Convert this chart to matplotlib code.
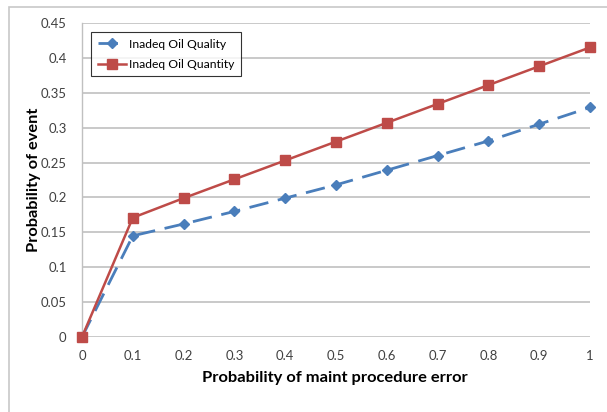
import matplotlib
matplotlib.use("Agg")
import matplotlib.pyplot as plt
from matplotlib.patches import Rectangle

x_vals = [0, 0.1, 0.2, 0.3, 0.4, 0.5, 0.6, 0.7, 0.8, 0.9, 1.0]
quality = [0, 0.145, 0.162, 0.180, 0.199, 0.218, 0.239, 0.260, 0.281, 0.305, 0.329]
quantity = [0, 0.171, 0.199, 0.226, 0.253, 0.280, 0.307, 0.334, 0.361, 0.388, 0.415]
x_ticks = [0, 0.1, 0.2, 0.3, 0.4, 0.5, 0.6, 0.7, 0.8, 0.9, 1.0]
x_tick_labels = ["0", "0.1", "0.2", "0.3", "0.4", "0.5", "0.6", "0.7", "0.8", "0.9", "1"]
y_ticks = [0, 0.05, 0.1, 0.15, 0.2, 0.25, 0.3, 0.35, 0.4, 0.45]
y_tick_labels = ["0", "0.05", "0.1", "0.15", "0.2", "0.25", "0.3", "0.35", "0.4", "0.45"]

plt.rcParams['font.family'] = ['Lato', 'DejaVu Sans']

W, H = 607, 412
fig = plt.figure(figsize=(W / 100, H / 100), dpi=100)
fig.patch.set_facecolor("white")
renderer = fig.canvas.get_renderer()


def fit_size(text, target_px, weight="normal", base=10.0):
    t = fig.text(0, 0, text, fontsize=base, fontweight=weight)
    w = t.get_window_extent(renderer=renderer).width
    t.remove()
    return base * target_px / w


fig.patches.append(Rectangle((9 / W, -0.1), 1.2, 1.1 - 7 / H,
                             transform=fig.transFigure, fill=False,
                             edgecolor="#c8c8c8", linewidth=1.2))

ax = fig.add_axes([82 / W, 1 - 337 / H, (590 - 82) / W, (337 - 23) / H])
ax.set_xlim(0, 1)
ax.set_ylim(0, 0.45)

ax.plot(x_vals, quality, color="#4A7EBB", linestyle=(0, (7, 3.5)), linewidth=2,
        marker="D", markersize=5.5, markerfacecolor="#4A7EBB",
        markeredgecolor="#4A7EBB", label="Inadeq Oil Quality", zorder=3, clip_on=False)
ax.plot(x_vals, quantity, color="#BE4B48", linestyle="-", linewidth=1.8,
        marker="s", markersize=7.5, markerfacecolor="#BE4B48",
        markeredgecolor="#BE4B48", label="Inadeq Oil Quantity", zorder=4, clip_on=False)

tick_fs = fit_size("0.35", 26)
ax.set_xticks(x_ticks)
ax.set_xticklabels(x_tick_labels)
ax.set_yticks(y_ticks)
ax.set_yticklabels(y_tick_labels)
ax.tick_params(axis="both", length=0, labelsize=tick_fs, colors="#404040")
ax.tick_params(axis="x", pad=9)
ax.tick_params(axis="y", pad=11)

ax.grid(axis="y", color="#c0c0c0", linewidth=1.2)
ax.set_axisbelow(True)
for s in ["top", "right", "bottom"]:
    ax.spines[s].set_visible(False)
ax.spines["left"].set_color("#c0c0c0")
ax.spines["left"].set_linewidth(1.0)

xl_fs = fit_size("Probability of maint procedure error", 266, weight="bold")
yl_fs = fit_size("Probability of event", 145, weight="bold")
fig.text((202 + 468) / 2 / W, 1 - 378 / H, "Probability of maint procedure error",
         fontsize=xl_fs, fontweight="bold", ha="center", va="center", color="black")
fig.text(34 / W, 1 - 180 / H, "Probability of event", rotation=90,
         fontsize=yl_fs, fontweight="bold", ha="center", va="center", color="black")

leg_fs = fit_size("Inadeq Oil Quantity", 105)
leg = ax.legend(loc="upper left", bbox_to_anchor=(9 / 508, 1 - 9 / 314),
                fontsize=leg_fs, frameon=True, fancybox=False, borderpad=0.55,
                handlelength=2.3, handletextpad=0.25, labelspacing=0.75,
                borderaxespad=0)
leg.get_frame().set_edgecolor("black")
leg.get_frame().set_linewidth(0.8)

fig.savefig("out.png", dpi=100)
